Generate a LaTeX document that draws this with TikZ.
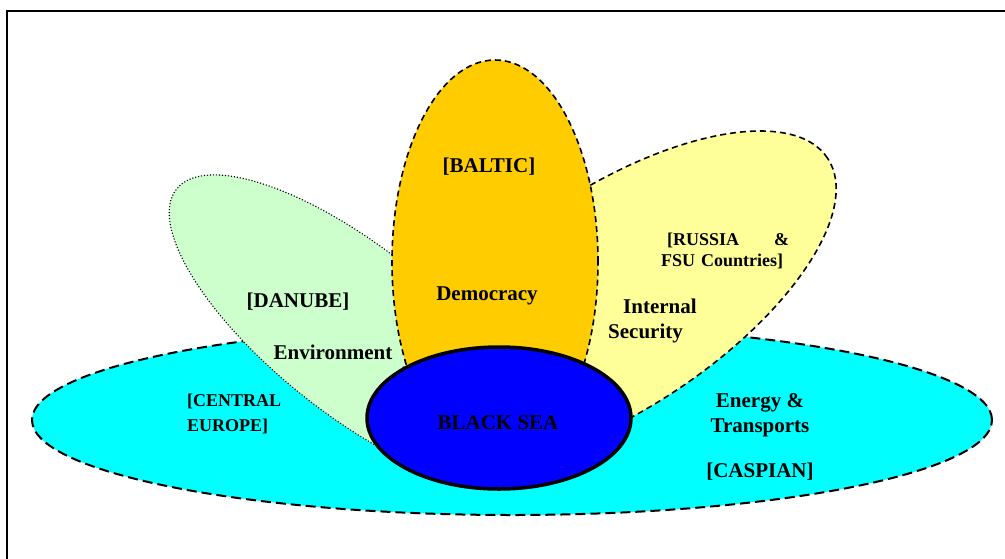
\documentclass[tikz,border=0pt]{standalone}
\usepackage{fontspec}
\setmainfont{Liberation Serif}
\usetikzlibrary{shapes.geometric}
\definecolor{seacyan}{HTML}{00FFFF}
\definecolor{danubegreen}{HTML}{CCFFCC}
\definecolor{balticorange}{HTML}{FFCC00}
\definecolor{russiayellow}{HTML}{FFFF99}
\definecolor{blackseablue}{HTML}{0000FF}
\tikzset{
  region/.style={ellipse, inner sep=0pt, outer sep=0pt},
  longdash/.style={draw=black, line width=2pt, dash pattern=on 10pt off 5pt},
  shortdash/.style={draw=black, line width=1.6pt, dash pattern=on 6pt off 4pt},
  finedot/.style={draw=black, line width=1.1pt, dash pattern=on 1.1pt off 1.9pt},
  bigtext/.style={font=\fontsize{21}{25}\selectfont\bfseries, inner sep=0pt},
  smalltext/.style={font=\fontsize{18}{21}\selectfont\bfseries, inner sep=0pt},
}
\begin{document}
\begin{tikzpicture}[x=1pt, y=-1pt]
\useasboundingbox (0,0) rectangle (1005,558);
\fill[white] (0,0) rectangle (1005,558);
% frame
\draw[line width=1.6pt] (7,575) -- (7,11) -- (1020,11);
% regions
\node[region, longdash, fill=seacyan, minimum width=960pt, minimum height=190pt] (central) at (512,420) {};
\node[region, finedot, fill=danubegreen, minimum width=456pt, minimum height=166pt, rotate=-38.5] (danube) at (355,331) {};
\node[region, shortdash, fill=russiayellow, minimum width=510pt, minimum height=220pt, rotate=33.5] (russia) at (615,299) {};
\node[region, shortdash, fill=balticorange, minimum width=206pt, minimum height=404pt] (baltic) at (495,262) {};
\node[region, draw=black, line width=3.5pt, fill=blackseablue, minimum width=264pt, minimum height=142pt] (blacksea) at (499,418) {};
% labels
\node[bigtext] (tbaltic) at (489,167) {[BALTIC]};
\node[bigtext] (tdemocracy) at (487,296) {Democracy};
\node[bigtext] (tdanube) at (298,302) {[DANUBE]};
\node[bigtext] (tenvironment) at (333,352) {Environment};
\node[smalltext, font=\fontsize{18}{25}\selectfont\bfseries, anchor=west, align=left] (tcentral) at (187,414) {[CENTRAL\\EUROPE]};
\node[smalltext, anchor=west, align=left, text width=128pt] (trussia) at (661,251) {\hspace*{6pt}[RUSSIA\hfill\&\\FSU Countries]};
\node[bigtext, anchor=west, align=left] (tinternal) at (608,321) {\hspace*{15pt}Internal\\Security};
\node[bigtext, align=center] (tenergy) at (760,437) {Energy \&\\Transports\\[20pt]{[CASPIAN]}};
\node[bigtext] (tblacksea) at (498,423) {BLACK SEA};
\end{tikzpicture}
\end{document}
